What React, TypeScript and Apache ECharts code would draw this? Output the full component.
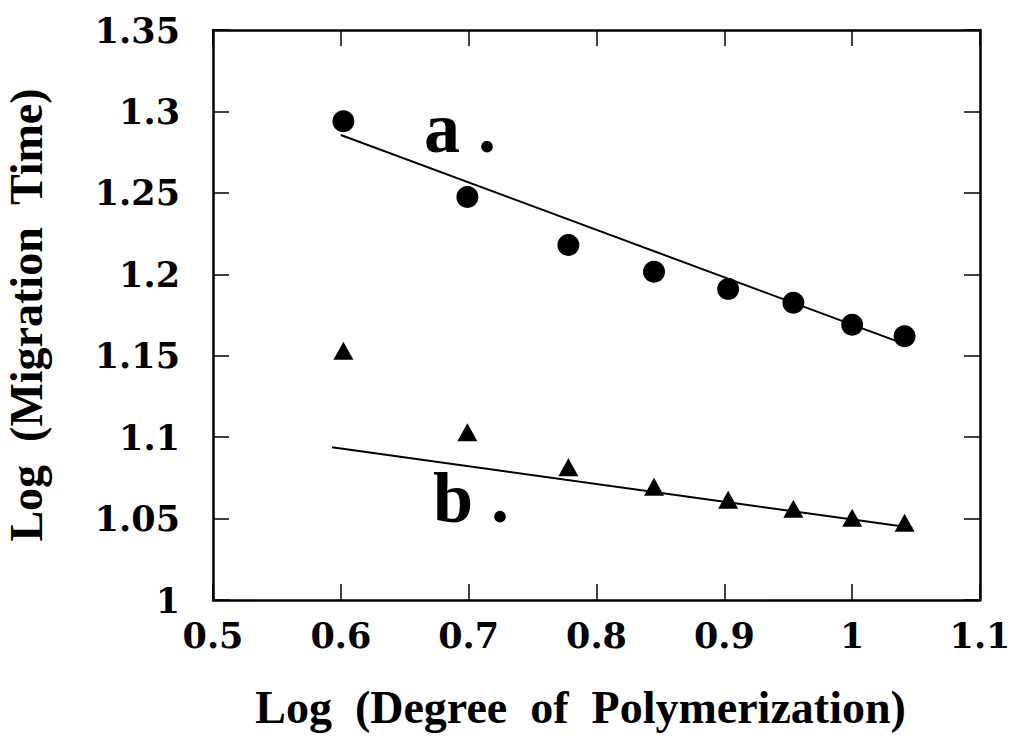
import React, { useEffect, useRef } from "react";
import * as echarts from "echarts";

const xValues = [0.602, 0.699, 0.778, 0.845, 0.903, 0.954, 1.0, 1.041];
const seriesA = [1.294, 1.2475, 1.218, 1.2015, 1.191, 1.1825, 1.169, 1.162];
const seriesB = [1.153, 1.103, 1.0815, 1.0695, 1.0615, 1.056, 1.0505, 1.0475];
const fitAX = [0.6, 1.038];
const fitAY = [1.2855, 1.158];
const fitBX = [0.593, 1.047];
const fitBY = [1.0938, 1.0443];
const xTitle = "Log  (Degree  of  Polymerization)";
const yTitle = "Log  (Migration  Time)";

const FONT = "'Liberation Serif', 'Times New Roman', serif";
const TICKFONT = "'DejaVu Serif', serif";

export default function App() {
  const ref = useRef<HTMLDivElement>(null);
  useEffect(() => {
    if (!ref.current) return;
    const chart = echarts.init(ref.current, null, { renderer: "svg" });
    const axisLine = { show: true, onZero: false, lineStyle: { color: "#000", width: 2.5 } };
    const tick = { show: true, inside: true, length: 16, lineStyle: { color: "#000", width: 1.5 } };
    const labelStyle = { color: "#000", fontFamily: TICKFONT, fontWeight: "bold" as const, fontSize: 35 };
    const nameStyle = { color: "#000", fontFamily: FONT, fontWeight: "bold" as const, fontSize: 46 };
    chart.setOption({
      animation: false,
      backgroundColor: "#fff",
      grid: { left: 213, right: 39, top: 30, bottom: 155, containLabel: false, outerBoundsMode: "none" },
      xAxis: [
        {
          type: "value", min: 0.5, max: 1.1, interval: 0.1, position: "bottom",
          axisLine, axisTick: tick, splitLine: { show: false },
          axisLabel: { ...labelStyle, margin: 18 },
          name: xTitle, nameLocation: "middle", nameGap: 84,
          nameTextStyle: { ...nameStyle, padding: [0, 32, 0, 0] },
        },
        {
          type: "value", min: 0.5, max: 1.1, interval: 0.1, position: "top",
          axisLine, axisTick: tick, splitLine: { show: false }, axisLabel: { show: false },
        },
      ],
      yAxis: [
        {
          type: "value", min: 1, max: 1.35, interval: 0.05, position: "left",
          axisLine, axisTick: tick, splitLine: { show: false },
          axisLabel: { ...labelStyle, margin: 33 },
          name: yTitle, nameLocation: "middle", nameGap: 164, nameRotate: 90,
          nameTextStyle: nameStyle,
        },
        {
          type: "value", min: 1, max: 1.35, interval: 0.05, position: "right",
          axisLine, axisTick: tick, splitLine: { show: false }, axisLabel: { show: false },
        },
      ],
      series: [
        {
          type: "line", data: fitAX.map((x, i) => [x, fitAY[i]]), showSymbol: false, symbol: "none",
          lineStyle: { color: "#000", width: 2 }, silent: true,
        },
        {
          type: "line", data: fitBX.map((x, i) => [x, fitBY[i]]), showSymbol: false, symbol: "none",
          lineStyle: { color: "#000", width: 2 }, silent: true,
        },
        {
          type: "scatter", data: xValues.map((x, i) => [x, seriesA[i]]),
          symbol: "circle", symbolSize: 22, itemStyle: { color: "#000", opacity: 1 },
        },
        {
          type: "scatter", data: xValues.map((x, i) => [x, seriesB[i]]),
          symbol: "triangle", symbolSize: [20, 18], itemStyle: { color: "#000", opacity: 1 },
        },
      ],
      graphic: [
        {
          type: "text", left: 424, top: 92,
          style: { text: "a .", fontFamily: FONT, fontWeight: "bold", fontSize: 72, fill: "#000" },
        },
        {
          type: "text", left: 433, top: 462,
          style: { text: "b .", fontFamily: FONT, fontWeight: "bold", fontSize: 72, fill: "#000" },
        },
      ],
    });
    return () => chart.dispose();
  }, []);
  return <div ref={ref} style={{ width: 1019, height: 755, position: "absolute", left: 0, top: 0 }} />;
}
